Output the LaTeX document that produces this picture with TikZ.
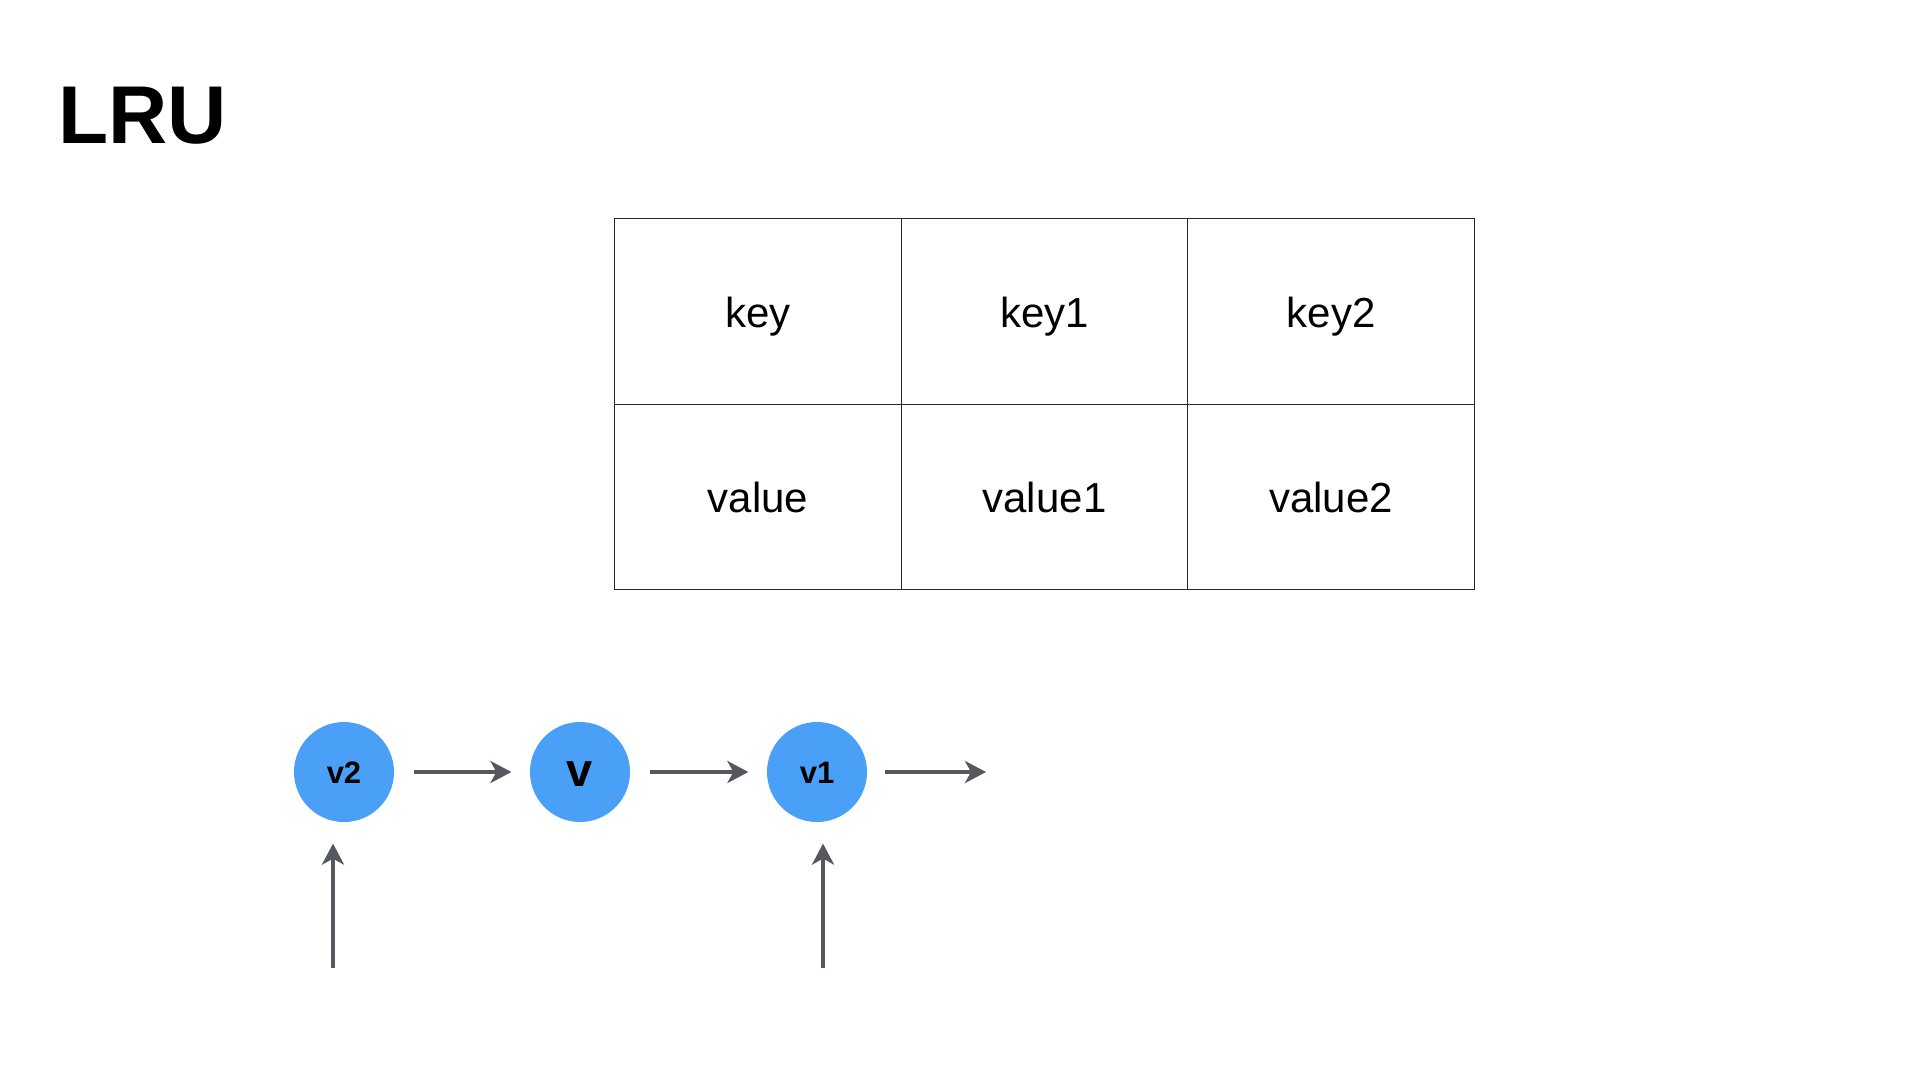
\documentclass[tikz,border=0pt]{standalone}
\usepackage{fontspec}
\setmainfont{Liberation Sans}
\usetikzlibrary{arrows.meta}

\definecolor{nodeblue}{HTML}{4A9FF6}
\definecolor{arrowgray}{HTML}{55585E}

\begin{document}
\begin{tikzpicture}[x=1pt, y=-1pt, line width=1.2pt,
  cell/.style={draw=black!85, minimum width=286.5pt, minimum height=185.5pt,
    inner sep=0pt, text height=31pt, text depth=0pt,
    font=\fontsize{42}{50}\selectfont},
  listnode/.style={circle, fill=nodeblue, minimum size=100pt, inner sep=0pt,
    text height=22pt, text depth=0pt, font=\bfseries\fontsize{31}{36}\selectfont},
  ptr/.style={draw=arrowgray, line width=4.5pt,
    -{Stealth[length=21pt, width=22pt, inset=6pt]}}]
\useasboundingbox (0,0) rectangle (1920,1080);

% 标题
\node[anchor=base west, inner sep=0pt, font=\bfseries\fontsize{82}{96}\selectfont] (title) at (58,143) {LRU};

% 哈希表
\node[cell] (k0) at (758,311.5) {key};
\node[cell] (k1) at (1044.5,311.5) {key1};
\node[cell] (k2) at (1331,311.5) {key2};
\node[cell] (v0) at (758,497) {value};
\node[cell] (v1) at (1044.5,497) {value1};
\node[cell] (v2) at (1331,497) {value2};

% 链表
\node[listnode] (n2) at (344,772) {v2};
\node[listnode, text height=28pt, font=\bfseries\fontsize{47}{54}\selectfont] (n0) at (580,772) {v};
\node[listnode] (n1) at (817,772) {v1};
\coordinate (tail) at (986,772);
\coordinate (head) at (333,968);
\coordinate (cur) at (823,968);

\draw[ptr, shorten <=19pt, shorten >=18pt] (n2) -- (n0);
\draw[ptr, shorten <=19pt, shorten >=18pt] (n0) -- (n1);
\draw[ptr, shorten <=17pt] (n1) -- (tail);
\draw[ptr, shorten >=21pt] (head) -- (head |- n2.south);
\draw[ptr, shorten >=21pt] (cur) -- (cur |- n1.south);
\end{tikzpicture}
\end{document}
